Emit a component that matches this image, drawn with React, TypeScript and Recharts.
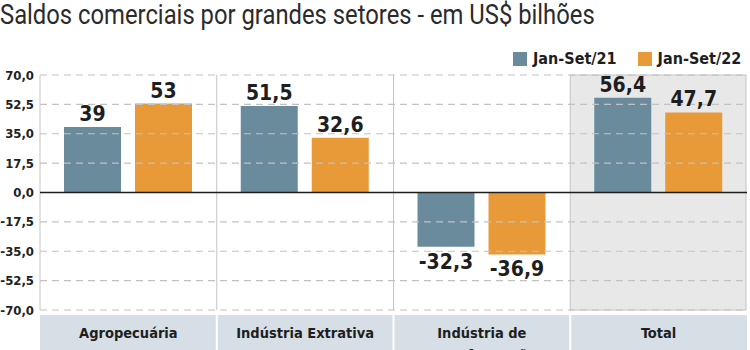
import React from 'react';
import { BarChart, Bar, XAxis, YAxis, ReferenceArea, ReferenceLine, LabelList } from 'recharts';

const categories = ['Agropecuária', 'Indústria Extrativa', 'Indústria de Transformação', 'Total'];
const categoryLines = [['Agropecuária'], ['Indústria Extrativa'], ['Indústria de', 'Transformação'], ['Total']];
const jan21 = [39, 51.5, -32.3, 56.4];
const jan22 = [53, 32.6, -36.9, 47.7];
const seriesNames = ['Jan-Set/21', 'Jan-Set/22'];
const yTicks = [-70, -52.5, -35, -17.5, 0, 17.5, 35, 52.5, 70];
const title = 'Saldos comerciais por grandes setores - em US$ bilhões';

const COLORS = ['#6a8b9b', '#e99a38'];
const FONT = '"DejaVu Sans Condensed", "Liberation Sans Narrow", Roboto, sans-serif';
const TITLE_FONT = 'Roboto, "Noto Sans", sans-serif';
const W = 750;
const H = 350;
const M = { top: 75, right: 3, left: 0, bottom: 0 };
const Y_W = 40;
const PLOT_W = W - M.left - M.right - Y_W;
const BAND = PLOT_W / categories.length;

const data = categories.map((c, i) => ({ name: c, a: jan21[i], b: jan22[i] }));

const fmt = (v: number) => String(v).replace('.', ',');
const fmtTick = (v: number) => v.toFixed(1).replace('.', ',');

const ValueLabel = (props: any) => {
  const { x, y, width, height, value } = props;
  const top = Math.min(y, y + height);
  const bottom = Math.max(y, y + height);
  const cx = x + width / 2;
  const ty = value >= 0 ? top - 6 : bottom + 22;
  return (
    <text x={cx} y={ty} textAnchor="middle" fill="#1e1e1e" fontSize={21} fontWeight="bold" fontFamily={FONT}>
      {fmt(value)}
    </text>
  );
};

const CategoryTick = (props: any) => {
  const { x, y, index } = props;
  const lines = categoryLines[index] || [];
  return (
    <g>
      <rect x={x - BAND / 2} y={y + 5} width={BAND} height={40} fill="#d6dfe6" />
      {index > 0 && <line x1={x - BAND / 2} x2={x - BAND / 2} y1={y + 5} y2={y + 45} stroke="#ffffff" strokeWidth={2} />}
      {lines.map((l, i) => (
        <text key={i} x={x} y={y + 28 + i * 22} textAnchor="middle" fill="#1e1e1e" fontSize={14.5} fontWeight="bold" fontFamily={FONT}>
          {l}
        </text>
      ))}
    </g>
  );
};

const ColumnShape = (isTotal: boolean) => (props: any) => {
  const { x, y, width, height } = props;
  if (isTotal) {
    return (
      <rect x={x} y={y} width={width - 1} height={height} fill="#000" fillOpacity={0.09} stroke="#c4c4c4" strokeWidth={1} />
    );
  }
  return <line x1={x} x2={x} y1={y} y2={y + height} stroke="#c4c4c4" strokeWidth={1} />;
};

export default function App() {
  return (
    <div style={{ position: 'absolute', left: 0, top: 0, width: W, height: H, background: '#fff', overflow: 'hidden' }}>
      <div
        style={{
          position: 'absolute',
          left: 0,
          top: 0,
          fontFamily: TITLE_FONT,
          fontSize: 28,
          fontWeight: 400,
          lineHeight: '30px',
          color: '#2b2b2b',
          whiteSpace: 'nowrap',
          transform: 'scaleX(0.85)',
          transformOrigin: 'left top',
          zIndex: 2,
        }}
      >
        {title}
      </div>
      <div
        style={{
          position: 'absolute',
          left: 513,
          top: 49,
          display: 'flex',
          alignItems: 'center',
          fontFamily: FONT,
          fontWeight: 'bold',
          fontSize: 16,
          color: '#1e1e1e',
          whiteSpace: 'nowrap',
          zIndex: 2,
        }}
      >
        {seriesNames.map((n, i) => (
          <div key={n} style={{ display: 'flex', alignItems: 'center', marginRight: i === 0 ? 21 : 0 }}>
            <div style={{ width: 14, height: 14, background: COLORS[i], marginRight: 6 }} />
            <span>{n}</span>
          </div>
        ))}
      </div>
      <BarChart width={W} height={H} data={data} margin={M} barCategoryGap={24} barGap={14}>
        <XAxis
          dataKey="name"
          height={40}
          axisLine={false}
          tickLine={false}
          tickSize={0}
          tickMargin={0}
          interval={0}
          tick={<CategoryTick />}
        />
        <YAxis
          width={Y_W}
          domain={[-70, 70]}
          ticks={yTicks}
          axisLine={false}
          tickLine={false}
          tickSize={0}
          tickMargin={6}
          interval={0}
          tickFormatter={fmtTick}
          tick={{ fill: '#222', fontSize: 13, fontWeight: 'bold', fontFamily: FONT }}
        />
        {categories.map((c, i) => (
          <ReferenceArea key={c} x1={c} x2={c} ifOverflow="visible" shape={ColumnShape(i === categories.length - 1)} />
        ))}
        {yTicks.filter((t) => t !== 0).map((t) => (
          <ReferenceLine key={t} y={t} stroke="#c2c2c2" strokeDasharray="7 5" strokeWidth={1.2} />
        ))}
        <ReferenceLine y={0} stroke="#1e1e1e" strokeWidth={1.5} />
        <Bar dataKey="a" name={seriesNames[0]} fill={COLORS[0]} isAnimationActive={false}>
          <LabelList dataKey="a" content={<ValueLabel />} />
        </Bar>
        <Bar dataKey="b" name={seriesNames[1]} fill={COLORS[1]} isAnimationActive={false}>
          <LabelList dataKey="b" content={<ValueLabel />} />
        </Bar>
      </BarChart>
    </div>
  );
}
